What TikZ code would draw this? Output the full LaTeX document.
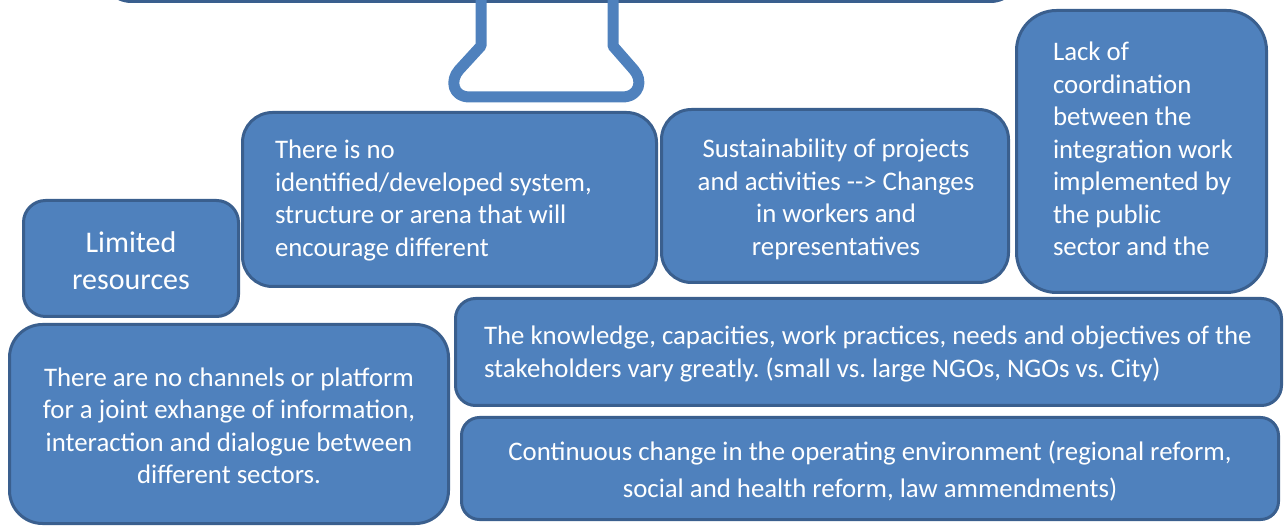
\documentclass[tikz,border=0pt]{standalone}
\usepackage{fontspec}
\setmainfont{Carlito}
\frenchspacing
\definecolor{fillc}{HTML}{4F81BD}
\definecolor{bordc}{HTML}{3A5F8E}
\begin{document}
\begin{tikzpicture}[x=1pt,y=-1pt,
  box/.style={draw=bordc, fill=fillc, line width=3pt, inner sep=0pt, outer sep=0pt, anchor=north west},
  txt/.style={text=white, font=\fontsize{26.8}{32.5}\selectfont, inner sep=0pt, outer sep=0pt},
  stem/.style={draw=fillc, line width=11pt, line join=round}]
\path[use as bounding box] (0,0) rectangle (1288,526);
% top box (cut off)
\begin{scope}
\clip (0,0) rectangle (1288,526);
\node[box, rounded corners=30pt, minimum width=919pt, minimum height=80pt, anchor=south west] (top) at (101.5,1.5) {};
\end{scope}
% pedestal
\draw[stem] (481,-8) -- (481,46) -- (459,70) .. controls (450,80) and (452,97) .. (470,97) -- (622,97) .. controls (640,97) and (643,80) .. (634,70) -- (613,46) -- (613,-8);
% boxes
\node[box, rounded corners=22pt, minimum width=215pt, minimum height=116pt] (limited) at (23.5,200.5) {};
\node[box, rounded corners=30pt, minimum width=414pt, minimum height=174pt] (nosys) at (242.5,112.5) {};
\node[box, rounded corners=30pt, minimum width=347pt, minimum height=173pt] (sustain) at (661.5,109.5) {};
\node[box, rounded corners=40pt, minimum width=250pt, minimum height=282pt] (lack) at (1016.5,10.5) {};
\node[box, rounded corners=20pt, minimum width=826pt, minimum height=107pt] (know) at (455.5,298.5) {};
\node[box, rounded corners=33pt, minimum width=439pt, minimum height=199pt] (chan) at (9.5,324.5) {};
\node[box, rounded corners=18pt, minimum width=817pt, minimum height=102pt] (cont) at (461.5,417.5) {};
% texts (anchor = baseline of last line)
\node[txt, align=center, anchor=base, font=\fontsize{30}{37}\selectfont] (tlimited) at (131,290) {Limited\\resources};
\node[txt, align=left, anchor=base west] (tnosys) at (275,256.5) {There is no\\identified/developed system,\\structure or arena that will\\encourage different};
\node[txt, align=center, anchor=base] (tsustain) at (836,255.5) {Sustainability of projects\\and activities {-}{-}{>} Changes\\in workers and\\representatives};
\node[txt, align=left, anchor=base west] (tlack) at (1053,256) {Lack of\\coordination\\between the\\integration work\\implemented by\\the public\\sector and the};
\node[txt, align=left, anchor=base west] (tknow) at (484,377.5) {The knowledge, capacities, work practices, needs and objectives of the\\stakeholders vary greatly. (small vs. large NGOs, NGOs vs. City)};
\node[txt, align=center, anchor=base] (tchan) at (229,483.5) {There are no channels or platform\\for a joint exhange of information,\\interaction and dialogue between\\different sectors.};
\node[txt, align=center, anchor=base, font=\fontsize{26.8}{37}\selectfont] (tcont) at (870,497) {Continuous change in the operating environment (regional reform,\\social and health reform, law ammendments)};
\end{tikzpicture}
\end{document}
